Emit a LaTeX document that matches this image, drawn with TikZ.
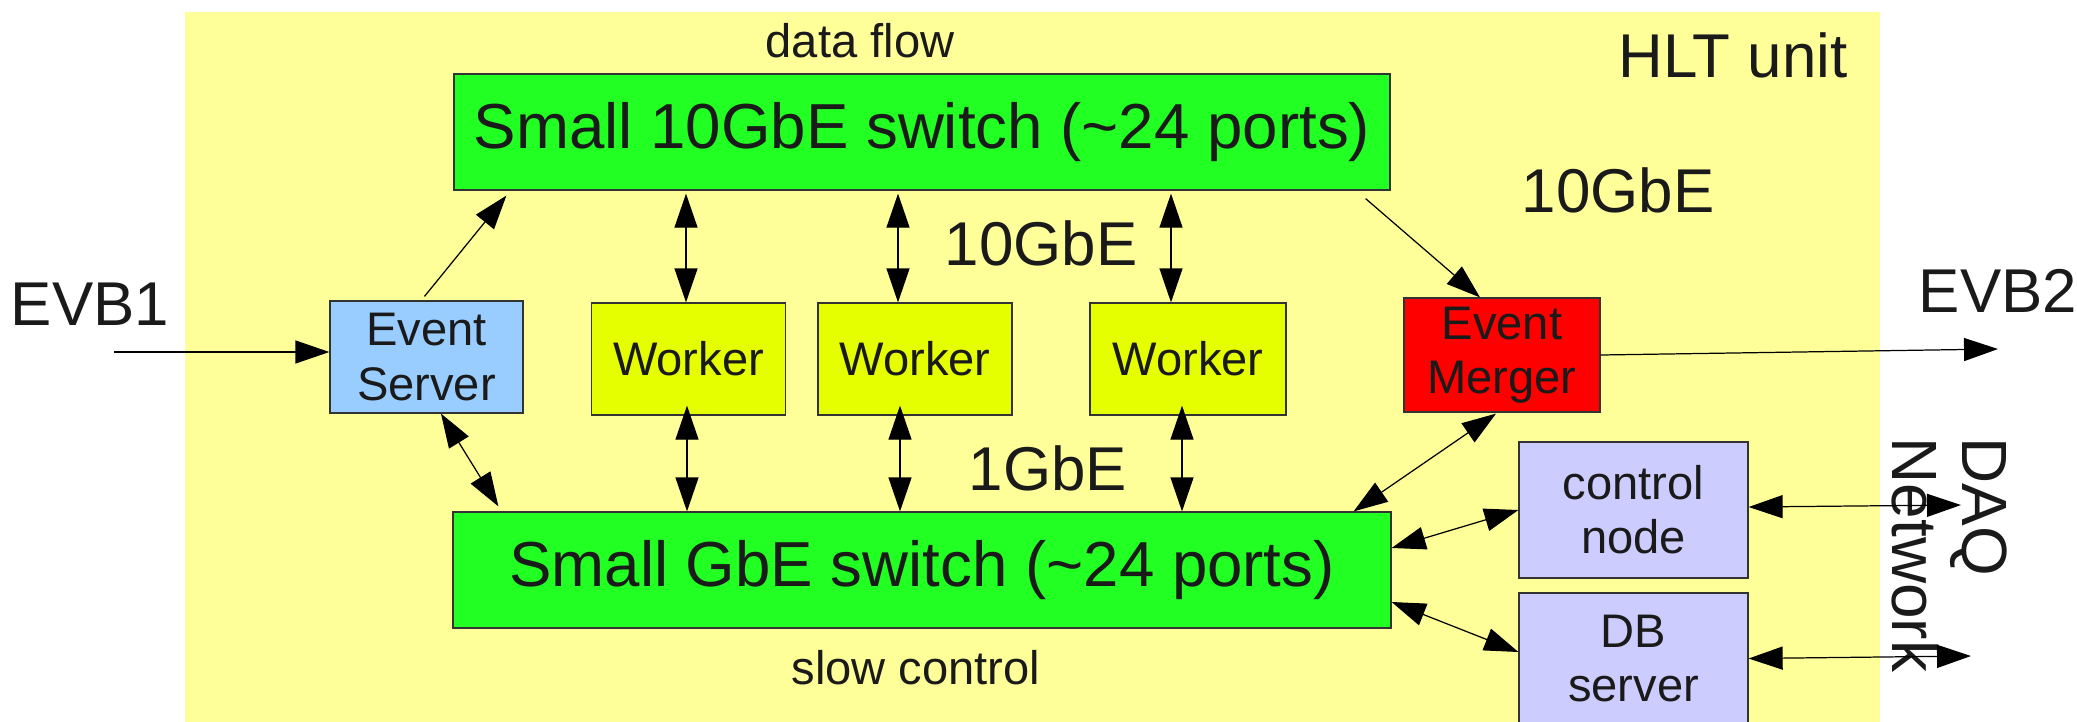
\documentclass[tikz,border=0pt]{standalone}
\usepackage{fontspec}
\setmainfont{Liberation Sans}
\usetikzlibrary{arrows.meta,calc}

\definecolor{hltbg}{HTML}{FFFF99}
\definecolor{swgreen}{HTML}{22FF22}
\definecolor{wkyellow}{HTML}{E6FF00}
\definecolor{esblue}{HTML}{99CCFF}
\definecolor{emred}{HTML}{FF0000}
\definecolor{ctlblue}{HTML}{CCCCFF}
\definecolor{inkgray}{HTML}{1A1A1A}

\newcommand{\boxfont}{\fontsize{13.4pt}{15.4pt}\selectfont}
\newcommand{\labelfont}{\fontsize{17.6pt}{20pt}\selectfont}
\newcommand{\switchfont}{\fontsize{18.1pt}{20pt}\selectfont}
\newcommand{\daqfont}{\fontsize{18.2pt}{19.9pt}\selectfont}

\begin{document}
\begin{tikzpicture}[
  x=0.1mm, y=-0.1mm,
  box/.style={draw=black!80, line width=0.35pt, inner sep=0pt, align=center,
              text=inkgray, font=\boxfont},
  switchbox/.style={box, fill=swgreen, font=\switchfont,
                    minimum height=11.6mm},
  workerbox/.style={box, fill=wkyellow, minimum width=19.4mm, minimum height=11.2mm},
  freetext/.style={inner sep=0pt, text=inkgray, anchor=base},
  link/.style={line width=0.35pt, -{Triangle[length=3.4mm, width=2.3mm]}},
  dlink/.style={line width=0.35pt, {Triangle[length=3.4mm, width=2.3mm]}-{Triangle[length=3.4mm, width=2.3mm]}},
]
\useasboundingbox (0,0) rectangle (2077,721);
\clip (0,0) rectangle (2077,721);

% HLT unit area
\fill[hltbg] (185,12) rectangle (1880,730);
\node[freetext, font=\labelfont] (hlt) at (1733,77) {HLT unit};

% switches
\node[switchbox, minimum width=93.6mm] (sw10) at (922,132) {Small 10GbE switch (\textasciitilde24 ports)};
\node[switchbox, minimum width=93.8mm] (sw1)  at (922,570) {Small GbE switch (\textasciitilde24 ports)};
\node[freetext, font=\boxfont] (dataflow) at (860,57) {data flow};
\node[freetext, font=\boxfont] (slowctl) at (916,684) {slow control};

% processing nodes
\node[box, fill=esblue, minimum width=19.3mm, minimum height=11.2mm] (es) at (426.5,357) {Event\\Server};
\node[workerbox] (w1) at (688.5,359) {Worker};
\node[workerbox] (w2) at (915,359) {Worker};
\node[workerbox, minimum width=19.6mm] (w3) at (1188,359) {Worker};
\node[box, fill=emred, minimum width=19.6mm, minimum height=11.4mm] (em) at (1502,355) {Event\\Merger};
\node[box, fill=ctlblue, minimum width=22.9mm, minimum height=13.6mm] (cn) at (1633.5,510) {control\\node};
\node[box, fill=ctlblue, minimum width=22.9mm, minimum height=13.1mm] (db) at (1633.5,658.5) {DB\\server};

% link speed labels
\node[freetext, font=\labelfont] (lbl10a) at (1041,265) {10GbE};
\node[freetext, font=\labelfont] (lbl10b) at (1618,212) {10GbE};
\node[freetext, font=\labelfont] (lbl1)   at (1048,490) {1GbE};

% external ends
\node[freetext, font=\labelfont] (evb1) at (90,325) {EVB1};
\node[freetext, font=\labelfont] (evb2) at (1998,312) {EVB2};
\node[inner sep=0pt, rotate=-90, anchor=north west, align=left, text=inkgray,
      font=\daqfont] (daq) at (2008,437) {DAQ\\Network};

\coordinate (evbin)  at (114,352);
\coordinate (evbout) at (1998,349);
\coordinate (daqa)   at (1961,505);
\coordinate (daqb)   at (1971,656);

% data flow
\draw[link] (evbin) -- (es.west |- evbin);
\draw[link] (em.east) -- (evbout);
\draw[link] ($(es.north)+(-2,-4)$) -- ($(sw10.south west)+(53,5)$);
\draw[link] ($(sw10.south east)+(-25,8)$) -- ($(em.north)+(-22,0)$);
\draw[dlink] ($(w1.north |- sw10.south)+(-2.5,3)$) -- ($(w1.north)+(-2.5,0)$);
\draw[dlink] ($(w2.north |- sw10.south)+(-17,3)$) -- ($(w2.north)+(-17,0)$);
\draw[dlink] ($(w3.north |- sw10.south)+(-17,3)$) -- ($(w3.north)+(-17,0)$);

% slow control
\draw[dlink] ($(w1.south)+(-1.5,-10)$) -- ($(w1.south |- sw1.north)+(-1.5,0)$);
\draw[dlink] ($(w2.south)+(-15,-10)$) -- ($(w2.south |- sw1.north)+(-15,0)$);
\draw[dlink] ($(w3.south)+(-6,-10)$) -- ($(w3.south |- sw1.north)+(-6,0)$);
\draw[dlink] ($(es.south)+(14.5,0)$) -- ($(sw1.north west)+(46,-5)$);
\draw[dlink] ($(em.south)+(-6,1)$) -- ($(sw1.north east)+(-38,0)$);
\draw[dlink] (cn.west) -- ($(sw1.east)+(0,-22)$);
\draw[dlink] ($(sw1.east)+(0,32)$) -- ($(db.west)+(0,-6.5)$);
\draw[dlink] ($(cn.east)+(0,-3)$) -- (daqa);
\draw[dlink] (db.east) -- (daqb);
\end{tikzpicture}
\end{document}
